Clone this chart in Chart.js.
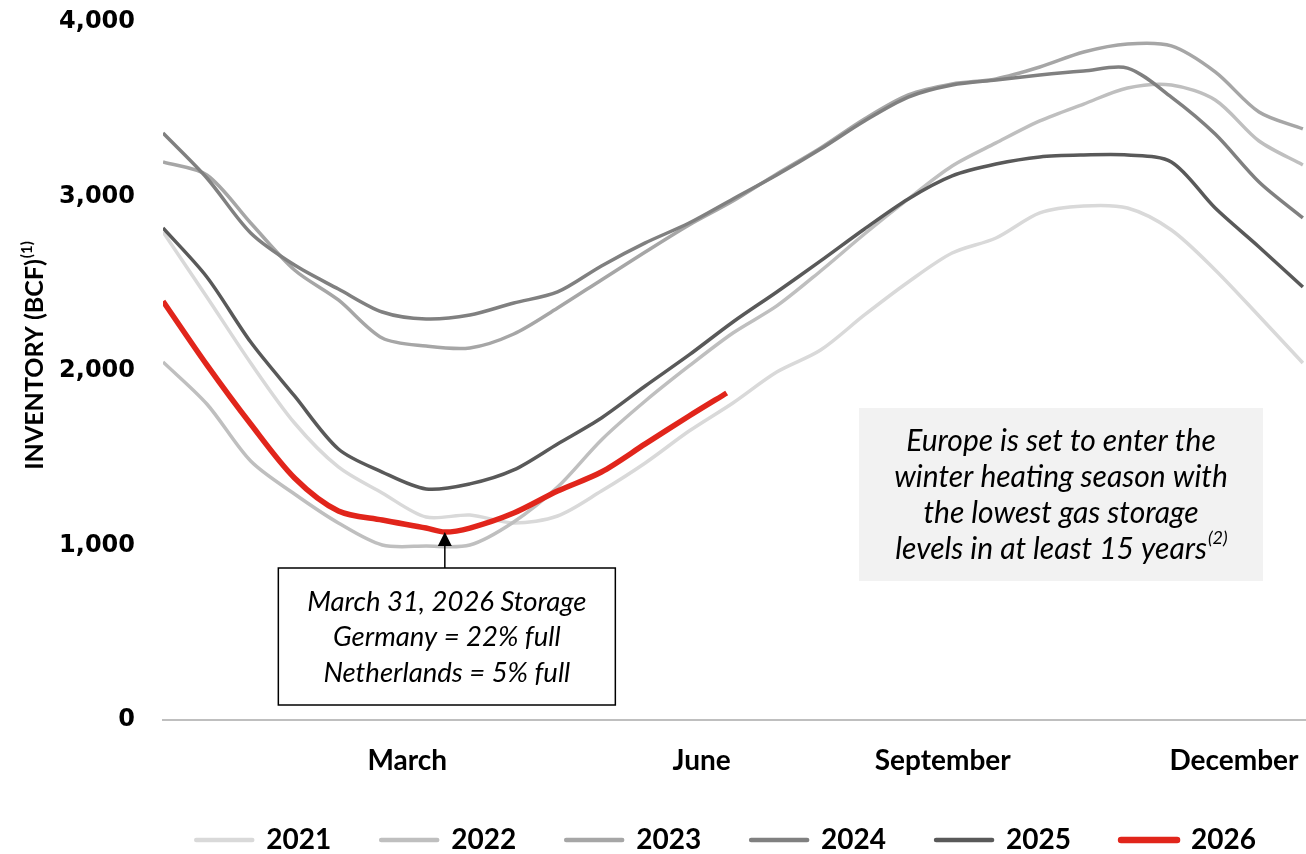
<!DOCTYPE html>
<html>
<head>
<meta charset="utf-8">
<script src="https://cdn.jsdelivr.net/npm/chart.js@4"></script>
<style>
html,body{margin:0;padding:0;background:#fff;}
canvas{display:block;}
</style>
</head>
<body>
<canvas id="storage" width="1306" height="854"></canvas>
<script>
// day of year for each reading (every two weeks)
const days = [0,14,28,42,56,70,84,98,112,126,140,154,168,182,196,210,224,238,252,266,280,294,308,322,336,350,364];
const days2026 = [0,14,28,42,56,70,84,90,98,112,126,140,154,168,180];

// inventory, bcf
const s2021 = [2797,2424,2046,1702,1450,1301,1163,1175,1129,1169,1312,1473,1656,1817,1994,2120,2321,2510,2676,2762,2906,2946,2934,2808,2579,2315,2046];
const s2022 = [2052,1811,1484,1295,1129,1003,997,1003,1135,1335,1605,1828,2029,2218,2373,2573,2785,2986,3175,3307,3433,3530,3622,3639,3553,3318,3181];
const s2023 = [3198,3123,2848,2579,2407,2189,2143,2132,2212,2361,2522,2682,2837,2974,3129,3278,3444,3582,3645,3674,3742,3828,3874,3863,3714,3484,3387];
const s2024 = [3364,3106,2791,2607,2470,2338,2298,2321,2390,2453,2602,2734,2848,2986,3123,3272,3433,3570,3639,3668,3696,3719,3736,3570,3358,3083,2877];
const s2025 = [2820,2539,2166,1857,1553,1421,1324,1353,1433,1582,1731,1914,2092,2281,2453,2631,2814,2986,3118,3186,3227,3238,3238,3198,2934,2711,2481];
const s2026 = [2400,2035,1696,1387,1198,1146,1100,1077,1100,1186,1312,1421,1582,1742,1874];

const years = ['2021','2022','2023','2024','2025','2026'];
const monthDays = [78,172,249,342];
const monthNames = ['March','June','September','December'];
const yTicks = [0,1000,2000,3000,4000];

// March 31 callout
const calloutDay = 90;
const calloutLines = ['March 31, 2026 Storage','Germany = 22% full','Netherlands = 5% full'];
const noteLines = ['Europe is set to enter the','winter heating season with','the lowest gas storage','levels in at least 15 years'];

const pts = (xs, ys) => xs.map((d, i) => ({x: d, y: ys[i]}));

function line(label, xs, ys, color, width, order){
  return {
    label, data: pts(xs, ys), borderColor: color, backgroundColor: color,
    borderWidth: width, pointRadius: 0, pointStyle: 'line', pointBorderWidth: width + 1,
    tension: 0.3, order
  };
}

const notes = {
  id: 'notes',
  afterDraw(chart){
    const {ctx, scales: {x, y}} = chart;
    ctx.save();
    ctx.fillStyle = '#000';

    // axis title, rotated, with footnote marker
    ctx.translate(34, 356);
    ctx.rotate(-Math.PI / 2);
    ctx.font = 'bold 25px Lato';
    const t = 'INVENTORY (BCF)';
    const tw = ctx.measureText(t).width;
    ctx.font = 'bold 15px Lato';
    const sw = ctx.measureText('(1)').width;
    ctx.textBaseline = 'alphabetic';
    ctx.textAlign = 'left';
    ctx.font = 'bold 25px Lato';
    ctx.fillText(t, -(tw + sw) / 2, 9);
    ctx.font = 'bold 15px Lato';
    ctx.fillText('(1)', -(tw + sw) / 2 + tw + 1, -2);
    ctx.setTransform(1, 0, 0, 1, 0, 0);

    // arrow up to the 2026 line
    const ax = x.getPixelForValue(calloutDay);
    const ay = y.getPixelForValue(s2026[days2026.indexOf(calloutDay)]);
    const bx = ax + 2, boxTop = 568, boxH = 137, boxW = 337;
    ctx.strokeStyle = '#000';
    ctx.lineWidth = 1.5;
    ctx.beginPath();
    ctx.moveTo(ax, boxTop);
    ctx.lineTo(ax, ay + 12);
    ctx.stroke();
    ctx.beginPath();
    ctx.moveTo(ax, ay);
    ctx.lineTo(ax - 7, ay + 14);
    ctx.lineTo(ax + 7, ay + 14);
    ctx.closePath();
    ctx.fill();

    ctx.fillStyle = '#fff';
    ctx.fillRect(bx - boxW / 2, boxTop, boxW, boxH);
    ctx.strokeRect(bx - boxW / 2, boxTop, boxW, boxH);
    ctx.fillStyle = '#000';
    ctx.font = 'italic 27.5px Lato';
    ctx.textAlign = 'center';
    ctx.textBaseline = 'middle';
    calloutLines.forEach((s, i) => ctx.fillText(s, bx, 602 + i * 35.5));

    // grey note box
    ctx.fillStyle = '#f2f2f2';
    ctx.fillRect(859, 408, 404, 173);
    ctx.fillStyle = '#000';
    const cx = 1061;
    const noteFont = 'italic 30px Lato', supFont = 'italic 18px Lato';
    ctx.font = noteFont;
    noteLines.forEach((s, i) => {
      const ly = 441 + i * 36;
      if (i < noteLines.length - 1) { ctx.fillText(s, cx, ly); return; }
      const w1 = ctx.measureText(s).width;
      ctx.font = supFont;
      const w2 = ctx.measureText('(2)').width;
      ctx.textAlign = 'left';
      ctx.font = noteFont;
      ctx.fillText(s, cx - (w1 + w2) / 2, ly);
      ctx.font = supFont;
      ctx.fillText('(2)', cx - (w1 + w2) / 2 + w1 + 1, ly - 11);
    });
    ctx.restore();
  }
};

new Chart(document.getElementById('storage'), {
  type: 'line',
  data: {
    datasets: [
      line(years[0], days, s2021, '#d9d9d9', 3.5, 6),
      line(years[1], days, s2022, '#bfbfbf', 3.5, 5),
      line(years[2], days, s2023, '#a6a6a6', 3.5, 4),
      line(years[3], days, s2024, '#808080', 3.5, 3),
      line(years[4], days, s2025, '#595959', 3.5, 2),
      line(years[5], days2026, s2026, '#e1251b', 5.5, 0)
    ]
  },
  options: {
    responsive: false,
    animation: false,
    devicePixelRatio: 1,
    layout: { padding: { top: 22, right: 0, bottom: -10, left: 0 } },
    scales: {
      x: {
        type: 'linear', min: 0, max: 365,
        afterBuildTicks: s => { s.ticks = monthDays.map(v => ({value: v})); },
        afterFit: s => { s.height = 56; s.paddingLeft = 0; s.paddingRight = 0; },
        grid: { display: false, drawTicks: false },
        border: { color: '#bfbfbf', width: 2 },
        ticks: {
          autoSkip: false, maxRotation: 0, padding: 24, color: '#000',
          font: { family: 'Lato', weight: 'bold', size: 28 },
          callback: (v, i) => monthNames[i]
        }
      },
      y: {
        min: 0, max: 4000,
        afterBuildTicks: s => { s.ticks = yTicks.map(v => ({value: v})); },
        afterFit: s => { s.width = 163; s.paddingTop = 0; s.paddingBottom = 0; },
        grid: { display: false, drawTicks: false },
        border: { display: false },
        ticks: {
          padding: 28, color: '#000',
          font: { family: 'DejaVu Sans', weight: 'bold', size: 24 },
          callback: v => v.toLocaleString('en-US')
        }
      }
    },
    plugins: {
      tooltip: { enabled: false },
      legend: {
        position: 'bottom', align: 'end',
        labels: {
          usePointStyle: true, pointStyleWidth: 56, padding: 50, color: '#000',
          font: { family: 'Lato', weight: 'bold', size: 28 },
          sort: (a, b) => a.datasetIndex - b.datasetIndex,
          generateLabels: c => Chart.defaults.plugins.legend.labels.generateLabels(c).map(l => ({...l, lineCap: 'round'}))
        }
      }
    }
  },
  plugins: [notes]
});
</script>
</body>
</html>
